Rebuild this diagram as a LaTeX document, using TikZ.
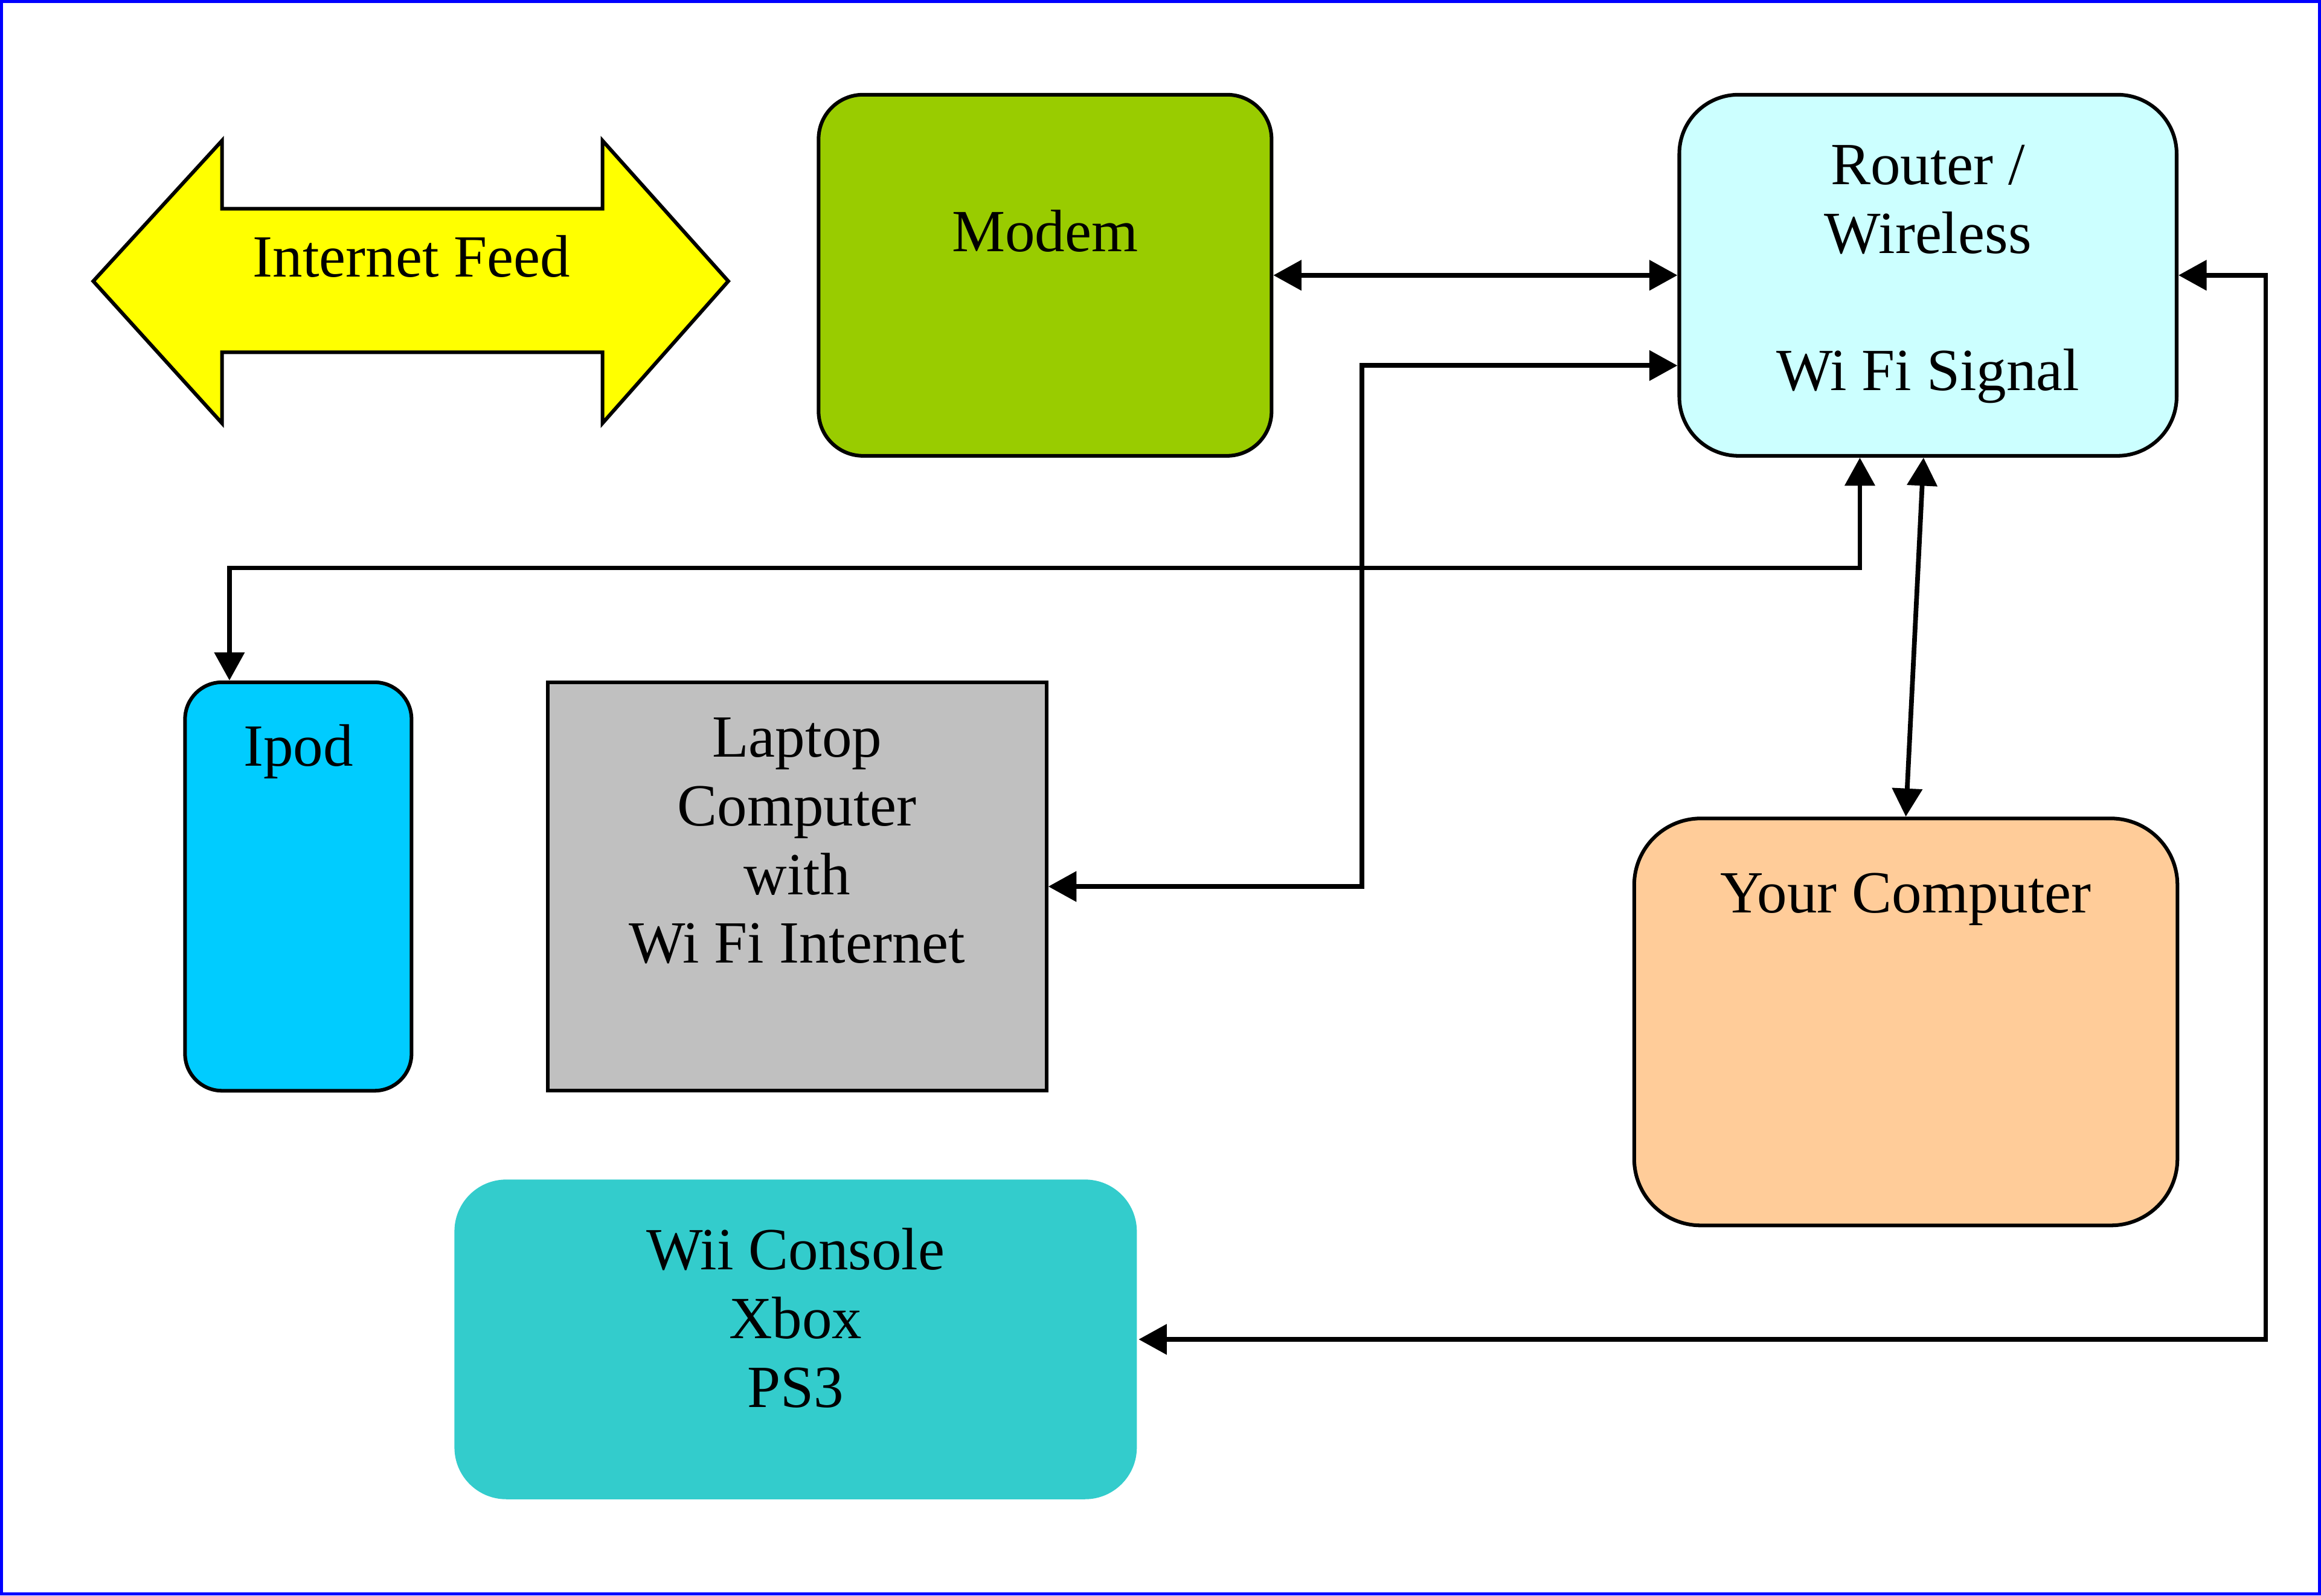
\documentclass[tikz,border=0pt]{standalone}
\usepackage{fontspec}
\setmainfont{Liberation Serif}
\usetikzlibrary{arrows.meta, positioning}
\definecolor{feedyellow}{HTML}{FFFF00}
\definecolor{modemgreen}{HTML}{99CC00}
\definecolor{routercyan}{HTML}{CCFFFF}
\definecolor{ipodblue}{HTML}{00CCFF}
\definecolor{laptopgray}{HTML}{C0C0C0}
\definecolor{pcorange}{HTML}{FFCC99}
\definecolor{consoleteal}{HTML}{33CCCC}

\begin{document}
\begin{tikzpicture}[
    box/.style={rectangle, draw, line width=0.7pt, inner sep=0pt},
    txt/.style={font=\fontsize{11.5}{13.2}\selectfont, align=center, inner sep=0pt, anchor=base},
    arr/.style={<->, >={Triangle[length=1.9mm, width=2mm]}, line width=0.9pt}
]
\useasboundingbox (0,0) rectangle (15.68,-10.78);
\draw[blue, line width=0.6pt] (0.01,-0.01) rectangle (15.67,-10.77);

% Internet feed arrow
\draw[fill=feedyellow, line width=0.7pt] (0.63,-1.90) -- (1.50,-0.95) -- (1.50,-1.41) -- (4.07,-1.41)
    -- (4.07,-0.95) -- (4.92,-1.90) -- (4.07,-2.86) -- (4.07,-2.38) -- (1.50,-2.38) -- (1.50,-2.86) -- cycle;
\node[txt] (feed) at (2.78,-1.87) {Internet Feed};

% Devices
\node[box, fill=modemgreen, rounded corners=0.3cm, minimum width=3.06cm, minimum height=2.44cm] (modem) at (7.06,-1.86) {};
\node[box, fill=routercyan, rounded corners=0.4cm, minimum width=3.36cm, minimum height=2.44cm, right=2.73cm of modem] (router) {};
\node[box, fill=ipodblue, rounded corners=0.25cm, minimum width=1.53cm, minimum height=2.76cm] (ipod) at (2.015,-5.99) {};
\node[box, fill=laptopgray, minimum width=3.37cm, minimum height=2.76cm, right=0.895cm of ipod] (laptop) {};
\node[box, fill=pcorange, rounded corners=0.45cm, minimum width=3.67cm, minimum height=2.75cm] (yourpc) at (12.875,-6.905) {};
\node[box, draw=none, fill=consoleteal, rounded corners=0.35cm, minimum width=4.61cm, minimum height=2.16cm] (wii) at (5.375,-9.05) {};

% Labels (base = last line)
\node[txt] (modemtext) at ([yshift=-1.07cm]modem.north) {Modem};
\node[txt] (routertext) at ([yshift=-2.01cm]router.north) {Router /\\Wireless\\[13.2pt]Wi Fi Signal};
\node[txt] (ipodtext) at ([yshift=-0.58cm]ipod.north) {Ipod};
\node[txt] (laptoptext) at ([yshift=-1.91cm]laptop.north) {Laptop\\Computer\\with\\Wi Fi Internet};
\node[txt] (yourpctext) at ([yshift=-0.65cm]yourpc.north) {Your Computer};
\node[txt] (wiitext) at ([yshift=-1.55cm]wii.north) {Wii Console\\Xbox\\PS3};

% Connections
\draw[arr] (modem.east) -- (router.west);
\draw[arr] (laptop.east) -- ++(2.12,0) |- ([yshift=-0.61cm]router.west);
\draw[arr] ([xshift=-0.465cm]ipod.north) -- ++(0,0.76) -| ([xshift=-0.46cm]router.south);
\draw[arr] ([xshift=-0.03cm]router.south) -- (yourpc.north);
\draw[arr] (router.east) -- ++(0.59,0) |- (wii.east);

\end{tikzpicture}
\end{document}
